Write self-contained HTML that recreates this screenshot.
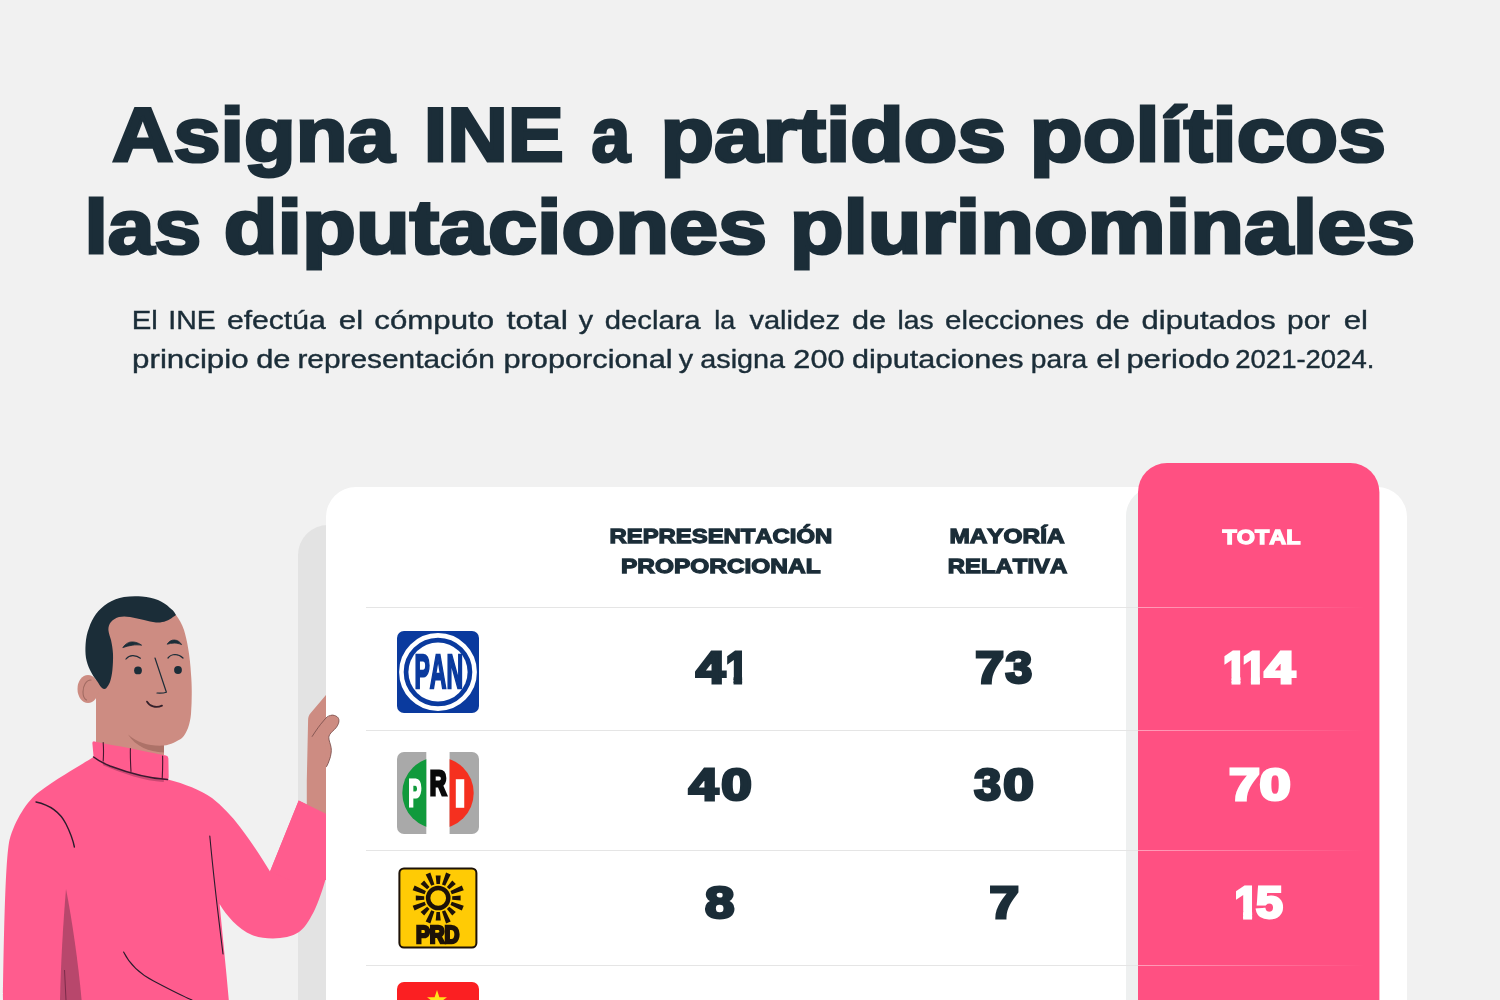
<!DOCTYPE html>
<html lang="es">
<head>
<meta charset="utf-8">
<title>Asigna INE a partidos políticos las diputaciones plurinominales</title>
<style>
html,body{margin:0;padding:0;background:#f1f1f1;}
body{width:1500px;height:1000px;overflow:hidden;position:relative;font-family:"Liberation Sans",sans-serif;}
svg{position:absolute;left:0;top:0;display:block;}
svg text{font-family:"Liberation Sans",sans-serif;font-kerning:none;}
</style>
</head>
<body>
<svg width="1500" height="1000" viewBox="0 0 1500 1000">
<defs>
<clipPath id="pageclip"><rect x="0" y="0" width="1500" height="1000"/></clipPath>
<linearGradient id="lnfade" x1="1138" x2="1365" y1="0" y2="0" gradientUnits="userSpaceOnUse">
<stop offset="0" stop-color="#ffffff" stop-opacity="0.45"/>
<stop offset="0.75" stop-color="#ffffff" stop-opacity="0.12"/>
<stop offset="1" stop-color="#ffffff" stop-opacity="0"/>
</linearGradient>
</defs>
<rect x="0" y="0" width="1500" height="1000" fill="#f1f1f1"/>

<!-- heading -->
<g id="title">
<text font-size="75.6" font-weight="700" fill="#1b2d38" stroke="#1b2d38" stroke-width="3.0" stroke-linejoin="miter" stroke-miterlimit="2.2"><tspan x="112.39" y="160.50" textLength="282.07" lengthAdjust="spacingAndGlyphs">Asigna</tspan> <tspan x="423.89" y="160.50" textLength="139.89" lengthAdjust="spacingAndGlyphs">INE</tspan> <tspan x="591.47" y="160.50" textLength="38.59" lengthAdjust="spacingAndGlyphs">a</tspan> <tspan x="660.53" y="160.50" textLength="345.57" lengthAdjust="spacingAndGlyphs">partidos</tspan> <tspan x="1029.69" y="160.50" textLength="356.37" lengthAdjust="spacingAndGlyphs">políticos</tspan></text>
<text font-size="75.6" font-weight="700" fill="#1b2d38" stroke="#1b2d38" stroke-width="3.0" stroke-linejoin="miter" stroke-miterlimit="2.2"><tspan x="84.44" y="253.00" textLength="116.71" lengthAdjust="spacingAndGlyphs">las</tspan> <tspan x="223.79" y="253.00" textLength="543.33" lengthAdjust="spacingAndGlyphs">diputaciones</tspan> <tspan x="789.70" y="253.00" textLength="625.40" lengthAdjust="spacingAndGlyphs">plurinominales</tspan></text>
</g>
<g id="para">
<text font-size="25.6" font-weight="400" fill="#1b2d38" stroke="#1b2d38" stroke-width="0.4" stroke-linejoin="miter" stroke-miterlimit="2.2"><tspan x="131.70" y="328.60" textLength="26.07" lengthAdjust="spacingAndGlyphs">El</tspan> <tspan x="168.27" y="328.60" textLength="47.45" lengthAdjust="spacingAndGlyphs">INE</tspan> <tspan x="226.92" y="328.60" textLength="98.78" lengthAdjust="spacingAndGlyphs">efectúa</tspan> <tspan x="338.87" y="328.60" textLength="24.32" lengthAdjust="spacingAndGlyphs">el</tspan> <tspan x="374.37" y="328.60" textLength="119.74" lengthAdjust="spacingAndGlyphs">cómputo</tspan> <tspan x="506.41" y="328.60" textLength="61.47" lengthAdjust="spacingAndGlyphs">total</tspan> <tspan x="578.83" y="328.60" textLength="14.33" lengthAdjust="spacingAndGlyphs">y</tspan> <tspan x="604.87" y="328.60" textLength="95.73" lengthAdjust="spacingAndGlyphs">declara</tspan> <tspan x="714.39" y="328.60" textLength="20.91" lengthAdjust="spacingAndGlyphs">la</tspan> <tspan x="749.40" y="328.60" textLength="90.55" lengthAdjust="spacingAndGlyphs">validez</tspan> <tspan x="851.91" y="328.60" textLength="34.05" lengthAdjust="spacingAndGlyphs">de</tspan> <tspan x="897.50" y="328.60" textLength="36.13" lengthAdjust="spacingAndGlyphs">las</tspan> <tspan x="945.05" y="328.60" textLength="139.01" lengthAdjust="spacingAndGlyphs">elecciones</tspan> <tspan x="1095.40" y="328.60" textLength="34.37" lengthAdjust="spacingAndGlyphs">de</tspan> <tspan x="1141.60" y="328.60" textLength="134.01" lengthAdjust="spacingAndGlyphs">diputados</tspan> <tspan x="1287.08" y="328.60" textLength="43.12" lengthAdjust="spacingAndGlyphs">por</tspan> <tspan x="1343.67" y="328.60" textLength="24.32" lengthAdjust="spacingAndGlyphs">el</tspan> <tspan x="132.08" y="367.60" textLength="116.53" lengthAdjust="spacingAndGlyphs">principio</tspan> <tspan x="256.21" y="367.60" textLength="34.26" lengthAdjust="spacingAndGlyphs">de</tspan> <tspan x="297.42" y="367.60" textLength="197.32" lengthAdjust="spacingAndGlyphs">representación</tspan> <tspan x="503.52" y="367.60" textLength="169.03" lengthAdjust="spacingAndGlyphs">proporcional</tspan> <tspan x="678.83" y="367.60" textLength="14.33" lengthAdjust="spacingAndGlyphs">y</tspan> <tspan x="700.28" y="367.60" textLength="84.82" lengthAdjust="spacingAndGlyphs">asigna</tspan> <tspan x="793.36" y="367.60" textLength="51.14" lengthAdjust="spacingAndGlyphs">200</tspan> <tspan x="851.92" y="367.60" textLength="171.69" lengthAdjust="spacingAndGlyphs">diputaciones</tspan> <tspan x="1030.88" y="367.60" textLength="56.42" lengthAdjust="spacingAndGlyphs">para</tspan> <tspan x="1096.18" y="367.60" textLength="24.20" lengthAdjust="spacingAndGlyphs">el</tspan> <tspan x="1126.41" y="367.60" textLength="103.19" lengthAdjust="spacingAndGlyphs">periodo</tspan> <tspan x="1235.32" y="367.60" textLength="138.99" lengthAdjust="spacingAndGlyphs">2021-2024.</tspan></text>
</g>

<!-- grey panel behind card -->
<rect x="298" y="525" width="1081" height="600" rx="30" ry="30" fill="#e3e3e3"/>

<!-- person -->
<g id="person">
  <!-- sweater body -->
  <path d="M93.6 757 C86 762 62 775 39 792 C27 801 15 820 9.5 840 C5.5 858 4 930 3 1000 L228.8 1000 C226 968 222.5 935 219.6 904 C226 915 238 929 252 935 C265 940 287 940 299 932 C309 925 319 904 326.4 876 L326.4 814 L298.7 800.4 L270 871.6 C262 858 250 840 240 827 C232 816 222 806 212 798 C200 790 185 784 168 779.6 Z" fill="#ff5c8e"/>
  <!-- dark shadow on sweater -->
  <path d="M66 889 C63 925 61 960 60 1000 L81.6 1000 C78 960 72 920 66 889 Z" fill="#b8476c"/>
  <path d="M64.5 970 L66 1000" stroke="#7c2b4a" stroke-width="1" fill="none"/>
  <!-- sweater lines -->
  <path d="M36 802 C50 805 60 812 66 824 C70 832 73 840 74.4 847" stroke="#2a1c2c" stroke-width="1.4" fill="none" stroke-linecap="round"/>
  <path d="M209.8 836 C213.5 876 218.5 918 223 954" stroke="#2a1c2c" stroke-width="1.1" fill="none" stroke-linecap="round"/>
  <path d="M123.6 952 C130 965 142 975 153.6 981 C165 987 180 995 192 1000" stroke="#2a1c2c" stroke-width="1.1" fill="none" stroke-linecap="round"/>
  <!-- neck + face -->
  <path d="M96 640 L96 756 L164 770 L164 745.6 C170 745 178 741 182 738 C187 733 190 724 191 714 C192 700 192 686 191 674 C190 655 187 640 184 630 C182 624 179 619 176 615 L120 610 Z" fill="#cd8c82"/>
  <!-- ear -->
  <ellipse cx="88" cy="689" rx="10.5" ry="14" fill="#cd8c82"/>
  <path d="M91 680 C86 680 83 686 83 692 C83 696 84.5 699 86.5 700" stroke="#a06a61" stroke-width="1.1" fill="none" stroke-linecap="round"/>
  <!-- neck shadow -->
  <path d="M128 734.5 C138 743 150 746.5 164 745.6 L164 752.6 C156 752 149 750.5 143.5 748 C137 744.8 131.5 740.2 128 734.5 Z" fill="#ad7268"/>
  <!-- hair -->
  <path d="M176 615 C174 611 172 609.5 170 608 C166 604 162 602 158 600 C153 598 148 596.8 142 596.4 C136 596 130 596 124 597 C118 598 113 600 108 603 C103 606 99 610 96 614 C93 618 90.5 623 89 628 C87 633 86 638 85.6 644 C85.3 649 85.3 653 86 658 C86.8 662 88 666 90 670 C92 674 94.5 678 97 681 C98.7 683.5 100 686 102 688 C103.3 689 104.7 689.2 106 688.4 C107.6 686.5 109 684.5 110 682 C111.3 678 112 674 112.4 670 C112.9 665 113.2 659.5 113 654 C112.7 649 112 644.5 111 640 C110 636.5 108.7 633.5 108.4 630 C108.3 627 109 624.3 111 622 C113 619.6 116 618 119 617 C122.5 616.2 126 616.3 130 617 C135 617.8 139.5 619 144 620 C148 621 152 622 156 622.4 C159.5 622.7 163 622.2 166 621 C168.8 620 171 618.7 173 617 C174.2 616.3 175.2 615.7 176 615 Z" fill="#1b2d38"/>
  <!-- brows -->
  <path d="M122.8 647.6 C125.5 643.6 129 641.8 132.5 641.9 C136 642 139.3 643.3 141.6 645.2 C138.5 644.8 135.5 644.7 132.3 645.2 C128.8 645.7 125.6 646.6 122.8 647.6 Z" fill="#1b2d38" stroke="#1b2d38" stroke-width="0.8" stroke-linejoin="round"/>
  <path d="M167.2 644.2 C169 641.3 171.6 639.9 174.3 640 C177.3 640.1 180 641.8 181.6 644.6 C179.2 643.6 176.8 643.1 174.2 643.1 C171.6 643.2 169.3 643.6 167.2 644.2 Z" fill="#1b2d38" stroke="#1b2d38" stroke-width="0.8" stroke-linejoin="round"/>
  <!-- eyelids -->
  <path d="M126 659 C128 656.5 130.5 655.5 133 655.6 C136 655.8 138.5 656.8 140.4 658.2" stroke="#1b2d38" stroke-width="1.2" fill="none" stroke-linecap="round"/>
  <path d="M168 658 C170 655.6 172.5 654.5 175 654.5 C178.5 654.6 181 656 183 658" stroke="#1b2d38" stroke-width="1.2" fill="none" stroke-linecap="round"/>
  <!-- eyes -->
  <circle cx="138" cy="670.4" r="3.9" fill="#1b2d38"/>
  <circle cx="178" cy="670" r="3.9" fill="#1b2d38"/>
  <!-- nose -->
  <path d="M155 658 L166.4 692.2 C164 693 160 693.2 157 693" stroke="#1b2d38" stroke-width="1.2" fill="none" stroke-linecap="round" stroke-linejoin="round"/>
  <!-- mouth -->
  <path d="M147 701.6 C149.5 706.3 156 708.4 162 705.6" stroke="#33202a" stroke-width="1.8" fill="none" stroke-linecap="round"/>
  <!-- collar -->
  <path d="M92.4 743.6 Q92 741 94.6 741.4 C105 743.6 118 746 130 748.2 C143 750.8 156 753.6 166 755.6 Q168.4 756.2 168.4 758.6 L168.7 777.4 Q168.7 779.9 166 779.6 C150 778.3 130 773.5 110 766 C104 763.5 98 760.5 93.6 757 Z" fill="#ff5c8e"/>
  <path d="M104 764.6 C113 768.6 124 772.6 134 775.4 C144 778.2 154 780.2 163 781" stroke="#cc4873" stroke-width="2.2" fill="none" stroke-linecap="round"/>
  <path d="M93.6 757 C98 760.5 104 763.5 110 766 C130 773.5 150 778.5 167.5 779.6" stroke="#3a1a30" stroke-width="1.5" fill="none" stroke-linecap="round"/>
  <path d="M103.2 742.6 C103.6 748 103.6 755 103.2 761 M130.4 748.6 C130.2 756 130.6 765 131 771.5 M162.6 756 C162.8 763 162.6 771 162.2 778.6" stroke="#45172f" stroke-width="1.1" fill="none" stroke-linecap="round"/>
  <!-- hand / forearm -->
  <path d="M326.4 694.6 L310.5 713.2 C308.8 715.2 308.1 717.5 308.1 720 L306.8 780 L306.8 810 L326.4 818 Z" fill="#cd8c82"/>
  <!-- sleeve cuff on top of forearm -->
  <path d="M298.7 800.4 L326.4 814 L326.4 880 L290 880 L270 871.6 Z" fill="#ff5c8e"/>
</g>

<!-- white card -->
<rect x="326" y="487" width="1081" height="600" rx="30" ry="30" fill="#ffffff"/>

<!-- soft shadow strip left of pink column -->
<rect x="1126" y="487" width="200" height="600" rx="29" ry="29" fill="#eef0f0"/>

<!-- thumb in front of card -->
<g id="thumb">
  <path d="M325.5 718.6 C327 717.2 328.8 716 330.6 715.4 C331.8 715 333 715 334.2 715.4 C335.6 715.8 336.6 716.3 337.4 717 C338.4 718 338.9 719 338.9 720.2 C339 721.5 338.8 722.7 338.3 723.8 C337.8 725.2 337 726.5 336 727.8 C335 729 333.7 730.2 332.4 731.4 C331.3 732.4 330.4 733.4 329.7 734.6 C329.1 735.6 328.8 736.6 328.8 737.7 C328.8 739.2 329.2 740.7 329.7 742.2 C330.3 744 330.8 745.8 331.1 747.6 C331.4 749.4 331.4 751.2 331.1 753 C330.8 755.5 330.2 758 329.3 760.2 C328.6 762.4 327.7 764.6 326.6 766.5 C326.2 767.2 325.8 767.8 325.2 768.3 Z" fill="#cd8c82"/>
  <path d="M312.2 736.4 C314 733.5 316 730.6 318 727.8 C319.7 725.4 321.5 723.1 323.4 721 C324.5 719.6 325.7 718.2 327 717 C328.1 716.2 329.3 715.7 330.6 715.4 C331.8 715 333 715 334.2 715.4 C335.6 715.8 336.6 716.3 337.4 717 C338.4 718 338.9 719 338.9 720.2 C339 721.5 338.8 722.7 338.3 723.8 C337.8 725.2 337 726.5 336 727.8 C335 729 333.7 730.2 332.4 731.4 C331.3 732.4 330.4 733.4 329.7 734.6 C329.1 735.6 328.8 736.6 328.8 737.7 C328.8 739.2 329.2 740.7 329.7 742.2 C330.3 744 330.8 745.8 331.1 747.6 C331.4 749.4 331.4 751.2 331.1 753 C330.8 755.5 330.2 758 329.3 760.2 C328.6 762.4 327.7 764.6 326.6 766.5" stroke="#7f524f" stroke-width="0.9" fill="none" stroke-linecap="round"/>
</g>

<!-- separators -->
<g stroke="#e5e5e5" stroke-width="1">
<line x1="366" x2="1138" y1="607.5" y2="607.5"/>
<line x1="366" x2="1138" y1="730.5" y2="730.5"/>
<line x1="366" x2="1138" y1="850.5" y2="850.5"/>
<line x1="366" x2="1138" y1="965.5" y2="965.5"/>
</g>

<!-- header labels -->
<g id="hdr">
<text font-size="20.93" font-weight="700" fill="#1b2d38" stroke="#1b2d38" stroke-width="1.3" stroke-linejoin="miter" stroke-miterlimit="2.2"><tspan x="609.55" y="543.25" textLength="222.70" lengthAdjust="spacingAndGlyphs">REPRESENTACIÓN</tspan> <tspan x="621.02" y="573.25" textLength="199.59" lengthAdjust="spacingAndGlyphs">PROPORCIONAL</tspan></text>
<text font-size="21.08" font-weight="700" fill="#1b2d38" stroke="#1b2d38" stroke-width="1.3" stroke-linejoin="miter" stroke-miterlimit="2.2"><tspan x="949.42" y="543.45" textLength="115.17" lengthAdjust="spacingAndGlyphs">MAYORÍA</tspan> <tspan x="947.85" y="573.05" textLength="119.33" lengthAdjust="spacingAndGlyphs">RELATIVA</tspan></text>
</g>
<g id="nums">
<g><text font-weight="700" fill="#1b2d38" stroke="#1b2d38" stroke-linejoin="miter" stroke-miterlimit="2.2"><tspan x="696.00" y="683.30" font-size="44.62" stroke-width="3.0" textLength="29.28" lengthAdjust="spacingAndGlyphs">4</tspan></text><clipPath id="dclip1"><polygon points="723.90,647.10 742.10,647.10 742.10,688.80 733.56,688.80 733.56,676.95 723.90,676.95"/></clipPath><text font-weight="700" fill="#1b2d38" stroke="#1b2d38" stroke-linejoin="miter" stroke-miterlimit="2.2" clip-path="url(#dclip1)" x="725.64" y="683.30" font-size="44.62" stroke-width="3.0" textLength="22.45" lengthAdjust="spacingAndGlyphs">1</text></g>
<g><text font-weight="700" fill="#1b2d38" stroke="#1b2d38" stroke-linejoin="miter" stroke-miterlimit="2.2"><tspan x="975.37" y="683.30" font-size="44.62" stroke-width="3.0" textLength="28.80" lengthAdjust="spacingAndGlyphs">7</tspan><tspan x="1005.50" y="683.30" font-size="44.62" stroke-width="3.0" textLength="26.63" lengthAdjust="spacingAndGlyphs">3</tspan></text></g>
<g><text font-weight="700" fill="#1b2d38" stroke="#1b2d38" stroke-linejoin="miter" stroke-miterlimit="2.2"><tspan x="688.79" y="800.40" font-size="45.06" stroke-width="3.0" textLength="29.59" lengthAdjust="spacingAndGlyphs">4</tspan><tspan x="721.33" y="800.40" font-size="45.06" stroke-width="3.0" textLength="30.52" lengthAdjust="spacingAndGlyphs">0</tspan></text></g>
<g><text font-weight="700" fill="#1b2d38" stroke="#1b2d38" stroke-linejoin="miter" stroke-miterlimit="2.2"><tspan x="974.39" y="800.40" font-size="45.06" stroke-width="3.0" textLength="26.85" lengthAdjust="spacingAndGlyphs">3</tspan><tspan x="1003.33" y="800.40" font-size="45.06" stroke-width="3.0" textLength="30.52" lengthAdjust="spacingAndGlyphs">0</tspan></text></g>
<g><text font-weight="700" fill="#1b2d38" stroke="#1b2d38" stroke-linejoin="miter" stroke-miterlimit="2.2"><tspan x="705.02" y="917.50" font-size="45.06" stroke-width="3.0" textLength="29.40" lengthAdjust="spacingAndGlyphs">8</tspan></text></g>
<g><text font-weight="700" fill="#1b2d38" stroke="#1b2d38" stroke-linejoin="miter" stroke-miterlimit="2.2"><tspan x="989.42" y="917.50" font-size="45.06" stroke-width="3.0" textLength="29.51" lengthAdjust="spacingAndGlyphs">7</tspan></text></g>
</g>

<!-- logos -->
<g id="pan">
  <rect x="397" y="631" width="82" height="82" rx="7" ry="7" fill="#0a3a9e"/>
  <circle cx="438" cy="672" r="36.6" fill="none" stroke="#ffffff" stroke-width="4.6"/>
  <circle cx="438" cy="672" r="29.6" fill="#ffffff"/>
  <text x="414.46" y="688.20" font-size="47.97" font-weight="700" fill="#0a3a9e" stroke="#0a3a9e" stroke-width="2.4" stroke-linejoin="miter" stroke-miterlimit="2.2" textLength="48.70" lengthAdjust="spacingAndGlyphs">PAN</text>
</g>
<g id="pri">
  <clipPath id="pribox"><rect x="397" y="752" width="82" height="82" rx="7" ry="7"/></clipPath>
  <g clip-path="url(#pribox)">
    <rect x="397" y="752" width="29.3" height="82" fill="#a9a9a9"/>
    <rect x="449.6" y="752" width="29.4" height="82" fill="#a9a9a9"/>
    <clipPath id="priL"><rect x="397" y="752" width="29.3" height="82"/></clipPath>
    <clipPath id="priR"><rect x="449.6" y="752" width="29.4" height="82"/></clipPath>
    <circle cx="438" cy="793" r="35.7" fill="#109a3c" clip-path="url(#priL)"/>
    <circle cx="438" cy="793" r="35.7" fill="#f5301f" clip-path="url(#priR)"/>
  </g>
  <text font-weight="700" stroke-linejoin="miter" stroke-miterlimit="2.2"><tspan x="408.42" y="806.10" font-size="37.5" fill="#ffffff" stroke="#ffffff" stroke-width="3.0" textLength="12.73" lengthAdjust="spacingAndGlyphs">P</tspan><tspan x="429.84" y="794.60" font-size="35.47" fill="#0a0a0a" stroke="#0a0a0a" stroke-width="3.2" textLength="16.84" lengthAdjust="spacingAndGlyphs">R</tspan><tspan x="453.68" y="806.80" font-size="39.54" fill="#ffffff" stroke="#ffffff" stroke-width="1.6" textLength="12.54" lengthAdjust="spacingAndGlyphs">I</tspan></text>
</g>
<g id="prd">
  <rect x="399.4" y="868.4" width="77" height="79.2" rx="4.5" ry="4.5" fill="#ffcb05" stroke="#1d1208" stroke-width="2"/>
  <circle cx="438.2" cy="898" r="10.1" fill="none" stroke="#1d1208" stroke-width="4.5"/>
  <g fill="#1d1208">
    <polygon points="436.50,884.00 439.90,884.00 440.70,875.60 435.70,875.60"/>
<polygon points="441.99,884.42 445.13,885.72 450.69,874.38 446.07,872.47"/>
<polygon points="446.90,886.90 449.30,889.30 455.81,883.93 452.27,880.39"/>
<polygon points="450.48,891.07 451.78,894.21 463.73,890.13 461.82,885.51"/>
<polygon points="452.20,896.30 452.20,899.70 460.60,900.50 460.60,895.50"/>
<polygon points="451.78,901.79 450.48,904.93 461.82,910.49 463.73,905.87"/>
<polygon points="449.30,906.70 446.90,909.10 452.27,915.61 455.81,912.07"/>
<polygon points="445.13,910.28 441.99,911.58 446.07,923.53 450.69,921.62"/>
<polygon points="439.90,912.00 436.50,912.00 435.70,920.40 440.70,920.40"/>
<polygon points="434.41,911.58 431.27,910.28 425.71,921.62 430.33,923.53"/>
<polygon points="429.50,909.10 427.10,906.70 420.59,912.07 424.13,915.61"/>
<polygon points="425.92,904.93 424.62,901.79 412.67,905.87 414.58,910.49"/>
<polygon points="424.20,899.70 424.20,896.30 415.80,895.50 415.80,900.50"/>
<polygon points="424.62,894.21 425.92,891.07 414.58,885.51 412.67,890.13"/>
<polygon points="427.10,889.30 429.50,886.90 424.13,880.39 420.59,883.93"/>
<polygon points="431.27,885.72 434.41,884.42 430.33,872.47 425.71,874.38"/>
  </g>
  <text x="415.92" y="942.90" font-size="23.26" font-weight="700" fill="#1d1208" stroke="#1d1208" stroke-width="2.6" stroke-linejoin="miter" stroke-miterlimit="2.2" textLength="43.44" lengthAdjust="spacingAndGlyphs">PRD</text>
</g>
<g id="pt">
  <rect x="397" y="982" width="82" height="82" rx="7" ry="7" fill="#fb1f22"/>
  <polygon points="437,990 439.4,997.3 447,997.3 440.8,1001.8 443.2,1009 437,1004.5 430.8,1009 433.2,1001.8 427,997.3 434.6,997.3" fill="#ffe31a"/>
</g>

<!-- shadow strip + pink column -->
<rect x="1138" y="463" width="241.4" height="600" rx="29" ry="29" fill="#ff5082"/>
<g stroke="url(#lnfade)" stroke-width="1">
<line x1="1138" x2="1365" y1="607.5" y2="607.501"/>
<line x1="1138" x2="1365" y1="730.5" y2="730.501"/>
<line x1="1138" x2="1365" y1="850.5" y2="850.501"/>
<line x1="1138" x2="1365" y1="965.5" y2="965.501"/>
</g>
<g id="tot">
<text x="1222.59" y="543.65" font-size="21.08" font-weight="700" fill="#ffffff" stroke="#ffffff" stroke-width="1.3" stroke-linejoin="miter" stroke-miterlimit="2.2" textLength="77.98" lengthAdjust="spacingAndGlyphs">TOTAL</text>
<g><clipPath id="dclip2"><polygon points="1221.50,647.10 1240.40,647.10 1240.40,688.80 1231.54,688.80 1231.54,676.95 1221.50,676.95"/></clipPath><text font-weight="700" fill="#ffffff" stroke="#ffffff" stroke-linejoin="miter" stroke-miterlimit="2.2" clip-path="url(#dclip2)" x="1223.08" y="683.30" font-size="44.62" stroke-width="3.0" textLength="23.74" lengthAdjust="spacingAndGlyphs">1</text><clipPath id="dclip3"><polygon points="1240.70,647.10 1259.90,647.10 1259.90,688.80 1250.91,688.80 1250.91,676.95 1240.70,676.95"/></clipPath><text font-weight="700" fill="#ffffff" stroke="#ffffff" stroke-linejoin="miter" stroke-miterlimit="2.2" clip-path="url(#dclip3)" x="1242.21" y="683.30" font-size="44.62" stroke-width="3.0" textLength="24.29" lengthAdjust="spacingAndGlyphs">1</text><text font-weight="700" fill="#ffffff" stroke="#ffffff" stroke-linejoin="miter" stroke-miterlimit="2.2"><tspan x="1264.47" y="683.30" font-size="44.62" stroke-width="3.0" textLength="30.53" lengthAdjust="spacingAndGlyphs">4</tspan></text></g>
<g><text font-weight="700" fill="#ffffff" stroke="#ffffff" stroke-linejoin="miter" stroke-miterlimit="2.2"><tspan x="1229.01" y="800.40" font-size="45.06" stroke-width="3.0" textLength="30.93" lengthAdjust="spacingAndGlyphs">7</tspan><tspan x="1259.48" y="800.40" font-size="45.06" stroke-width="3.0" textLength="31.22" lengthAdjust="spacingAndGlyphs">0</tspan></text></g>
<g><clipPath id="dclip4"><polygon points="1232.90,881.00 1252.10,881.00 1252.10,923.00 1243.11,923.00 1243.11,911.10 1232.90,911.10"/></clipPath><text font-weight="700" fill="#ffffff" stroke="#ffffff" stroke-linejoin="miter" stroke-miterlimit="2.2" clip-path="url(#dclip4)" x="1234.41" y="917.50" font-size="45.06" stroke-width="3.0" textLength="24.29" lengthAdjust="spacingAndGlyphs">1</text><text font-weight="700" fill="#ffffff" stroke="#ffffff" stroke-linejoin="miter" stroke-miterlimit="2.2"><tspan x="1256.02" y="917.50" font-size="45.06" stroke-width="3.0" textLength="26.83" lengthAdjust="spacingAndGlyphs">5</tspan></text></g>
</g>
</svg>
</body>
</html>
